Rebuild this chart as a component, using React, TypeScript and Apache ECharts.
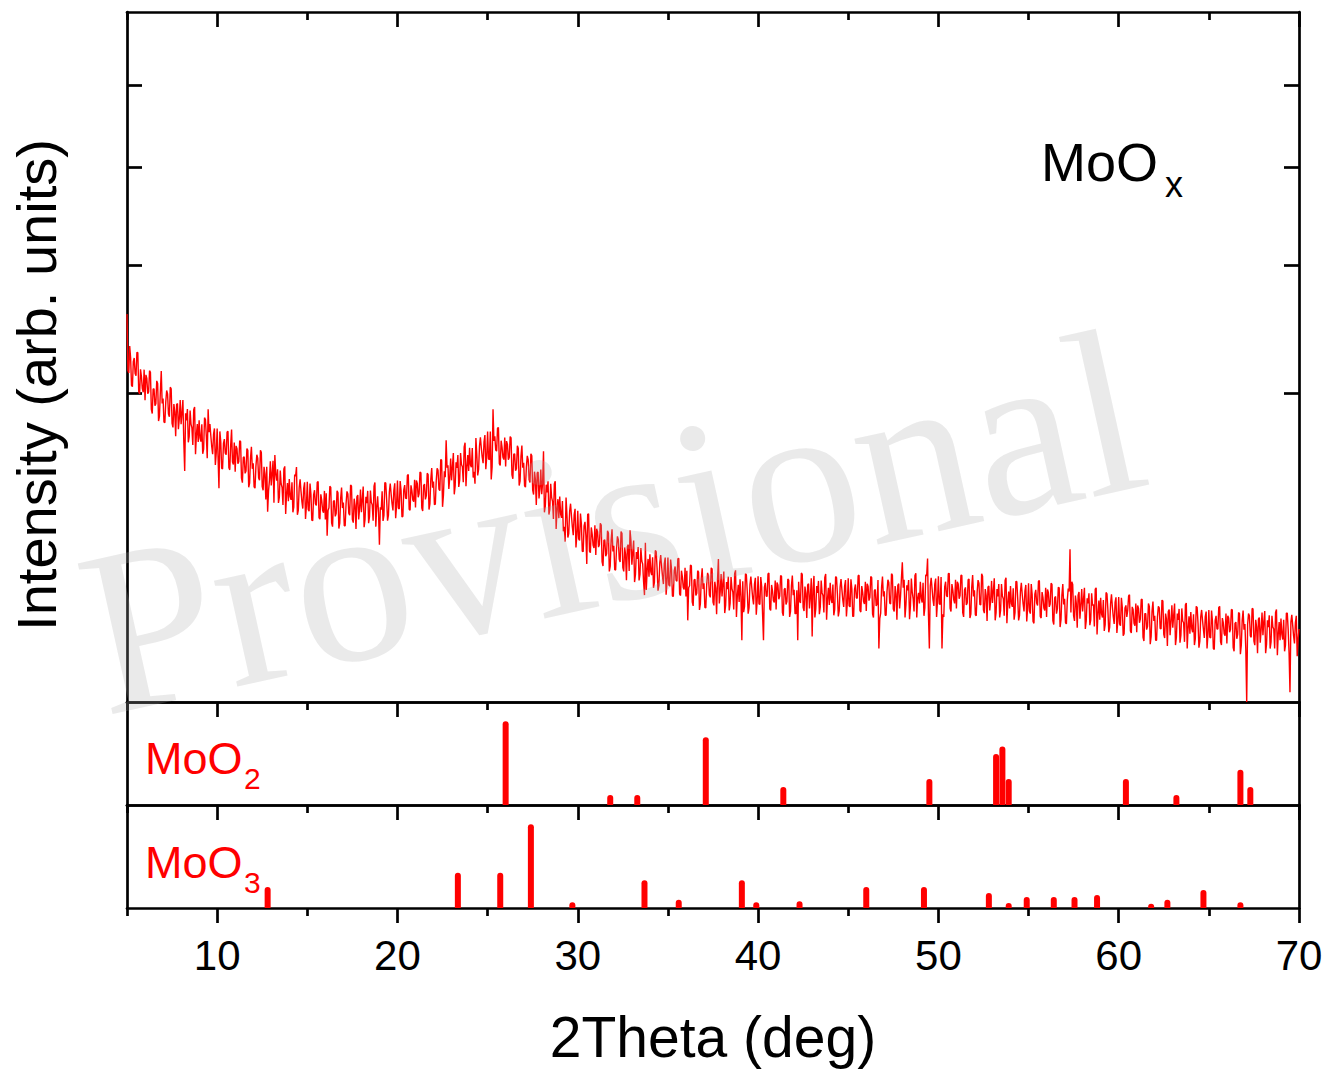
import React, { useEffect, useRef } from 'react';
import * as echarts from 'echarts';

// ---------- data ----------
const TWO_THETA_START = 5;
const TWO_THETA_STEP = 0.1;
// measured counts at 5.0, 5.1, ... 70.0 deg
const intensity: number[] = [
  1580, 1137, 1244, 1044, 1243, 1118, 1281, 996, 1112, 1007,
  956, 1099, 1010, 1141, 874, 1030, 935, 1066, 857, 1150,
  967, 819, 1019, 871, 1041, 815, 932, 742, 936, 842,
  810, 958, 560, 832, 708, 892, 789, 897, 645, 811,
  833, 712, 647, 849, 740, 900, 812, 685, 753, 590,
  785, 480, 711, 570, 726, 642, 770, 566, 780, 592,
  557, 674, 606, 713, 505, 632, 560, 665, 503, 684,
  598, 480, 642, 527, 665, 487, 581, 431, 380, 516,
  492, 611, 640, 514, 416, 563, 484, 570, 371, 503,
  522, 429, 378, 543, 580, 386, 521, 422, 479, 352,
  509, 382, 454, 345, 471, 406, 510, 351, 427, 376,
  350, 290, 396, 484, 323, 426, 373, 460, 336, 483,
  418, 326, 466, 374, 494, 350, 434, 314, 450, 394,
  378, 488, 349, 415, 336, 470, 408, 489, 323, 444,
  260, 388, 344, 506, 430, 367, 501, 413, 471, 355,
  515, 391, 469, 362, 494, 434, 544, 386, 469, 421,
  397, 502, 455, 552, 383, 499, 446, 543, 412, 575,
  510, 411, 574, 476, 617, 400, 559, 720, 588, 529,
  516, 651, 490, 575, 486, 651, 581, 684, 489, 640,
  679, 579, 529, 500, 644, 568, 736, 630, 709, 569,
  769, 617, 520, 900, 742, 661, 791, 588, 683, 617,
  583, 697, 628, 732, 523, 647, 573, 676, 512, 691,
  601, 485, 636, 520, 647, 471, 557, 408, 556, 479,
  453, 660, 404, 461, 369, 500, 423, 499, 314, 432,
  443, 356, 306, 270, 368, 298, 413, 322, 368, 251,
  384, 274, 333, 237, 341, 200, 372, 234, 296, 249,
  227, 304, 260, 329, 194, 276, 231, 300, 194, 313,
  256, 183, 288, 214, 305, 190, 251, 156, 260, 310,
  198, 274, 171, 215, 155, 249, 200, 120, 132, 215,
  229, 169, 137, 241, 187, 143, 227, 165, 201, 121,
  219, 141, 185, 117, 193, 153, 217, 119, 165, 133,
  117, 70, 142, 195, 97, 158, 124, 177, 101, 188,
  148, 93, 175, 120, 189, 105, 152, 81, 215, 128,
  117, 179, 98, 134, 88, 164, 127, 173, 76, 144,
  158, 40, 85, 173, 129, 93, 165, 114, 146, 80,
  166, 100, 140, 40, 149, 117, 175, 88, 130, 104,
  90, 144, 118, 166, 78, 136, 106, 156, 86, 168,
  132, 82, 40, 107, 175, 94, 140, 74, 147, 117,
  45, 167, 91, 125, 81, 155, 119, 163, 71, 137,
  149, 103, 79, 165, 123, 87, 159, 109, 141, 77,
  161, 95, 135, 77, 145, 113, 169, 85, 127, 101,
  87, 141, 115, 163, 75, 133, 101, 30, 83, 165,
  129, 79, 157, 103, 173, 91, 141, 71, 147, 117,
  205, 157, 99, 131, 72, 160, 112, 168, 75, 125,
  152, 104, 78, 170, 216, 30, 162, 110, 146, 76,
  166, 100, 30, 76, 152, 116, 174, 86, 132, 102,
  92, 146, 119, 169, 76, 138, 103, 159, 81, 169,
  131, 78, 156, 100, 173, 89, 134, 69, 141, 109,
  103, 161, 84, 117, 75, 146, 112, 155, 65, 128,
  141, 95, 71, 153, 112, 79, 149, 101, 129, 68,
  148, 82, 122, 65, 132, 98, 155, 74, 115, 88,
  76, 126, 101, 145, 63, 117, 91, 137, 71, 146,
  112, 64, 135, 245, 152, 78, 119, 58, 127, 99,
  86, 137, 69, 102, 62, 124, 100, 134, 48, 108,
  114, 75, 53, 126, 90, 59, 122, 76, 104, 50,
  116, 61, 94, 49, 98, 88, 121, 50, 90, 61,
  51, 92, 72, 111, 39, 82, 60, 96, 45, 106,
  78, 40, 96, 57, 109, 48, 82, 33, 90, 68,
  58, 102, 44, 71, 37, 92, 66, 99, 30, 77,
  85, 51, 34, 96, 65, 39, 89, 55, 76, 30,
  89, 43, 69, 29, 78, 56, 96, 34, 66, 46,
  36, 74, 55, 89, 27, 67, 48, 82, 34, 88,
  64, 0, 82, 46, 92, 39, 71, 25, 75, 55,
  47, 87, 35, 59, 30, 78, 56, 84, 23, 67,
  73, 41, 27, 83, 55, 1, 80, 46, 66, 22,
  56,
];
// measured counts at the half steps 5.05, 5.15, ... 69.95 deg
const intensityHalfStep: number[] = [
  1154, 1331, 1053, 1216, 1134, 1284, 1013, 1162, 1031, 1160,
  1124, 998, 1153, 899, 1029, 922, 1083, 829, 1011, 936,
  824, 946, 996, 854, 1030, 792, 885, 929, 781, 957,
  880, 712, 875, 902, 740, 811, 694, 914, 752, 710,
  732, 810, 671, 838, 624, 765, 743, 645, 786, 652,
  632, 769, 574, 702, 650, 766, 576, 693, 605, 707,
  689, 596, 717, 526, 628, 549, 675, 484, 625, 571,
  486, 583, 624, 516, 655, 471, 545, 581, 468, 608,
  549, 417, 547, 569, 441, 499, 408, 583, 456, 423,
  443, 507, 399, 535, 368, 483, 467, 393, 507, 403,
  389, 501, 347, 451, 412, 507, 357, 453, 385, 468,
  458, 385, 489, 336, 423, 362, 469, 316, 436, 395,
  326, 414, 454, 366, 490, 338, 406, 442, 350, 474,
  431, 321, 442, 468, 361, 419, 345, 506, 400, 377,
  398, 466, 366, 503, 345, 463, 453, 385, 502, 405,
  394, 513, 360, 472, 436, 539, 390, 493, 429, 519,
  515, 440, 555, 395, 492, 431, 550, 389, 522, 482,
  409, 514, 564, 469, 614, 449, 531, 576, 477, 622,
  581, 453, 604, 640, 517, 592, 507, 706, 583, 561,
  590, 678, 557, 732, 539, 688, 679, 599, 748, 631,
  620, 769, 580, 716, 667, 788, 597, 717, 629, 734,
  715, 617, 740, 542, 645, 562, 689, 492, 634, 577,
  491, 581, 617, 506, 637, 452, 520, 551, 435, 567,
  504, 378, 496, 512, 390, 440, 352, 512, 389, 355,
  370, 424, 322, 439, 284, 383, 364, 292, 392, 293,
  279, 373, 239, 326, 290, 370, 239, 320, 258, 328,
  315, 252, 335, 206, 275, 223, 308, 179, 275, 238,
  184, 249, 277, 206, 299, 179, 229, 254, 180, 273,
  235, 151, 236, 252, 171, 209, 152, 266, 184, 165,
  178, 220, 150, 237, 130, 204, 194, 146, 219, 152,
  144, 213, 118, 181, 156, 215, 122, 181, 138, 189,
  181, 137, 197, 105, 156, 119, 181, 89, 159, 134,
  94, 144, 167, 115, 186, 98, 136, 156, 102, 172,
  147, 83, 151, 165, 102, 135, 90, 182, 119, 105,
  117, 153, 96, 170, 82, 145, 138, 100, 162, 108,
  101, 164, 81, 138, 118, 172, 91, 144, 108, 155,
  150, 111, 168, 84, 133, 100, 159, 76, 142, 120,
  82, 131, 152, 103, 171, 87, 124, 144, 92, 161,
  136, 75, 141, 154, 95, 125, 84, 172, 112, 99,
  110, 145, 90, 163, 77, 139, 132, 95, 156, 103,
  97, 158, 77, 134, 114, 167, 88, 141, 106, 152,
  147, 108, 165, 81, 130, 97, 156, 73, 139, 117,
  79, 128, 150, 101, 169, 86, 123, 143, 92, 161,
  137, 75, 143, 156, 97, 127, 86, 174, 114, 102,
  113, 149, 93, 167, 79, 142, 135, 97, 160, 106,
  101, 164, 81, 139, 119, 173, 92, 146, 110, 157,
  152, 112, 168, 84, 132, 99, 157, 74, 139, 117,
  80, 127, 148, 99, 166, 83, 119, 139, 88, 154,
  130, 70, 134, 146, 88, 118, 78, 162, 104, 92,
  102, 136, 84, 152, 70, 128, 122, 86, 144, 93,
  87, 146, 68, 122, 103, 153, 77, 127, 93, 137,
  133, 95, 148, 69, 114, 82, 138, 59, 120, 100,
  66, 109, 128, 84, 145, 69, 102, 120, 73, 134,
  112, 56, 113, 124, 71, 98, 60, 137, 83, 71,
  81, 109, 63, 123, 51, 102, 95, 64, 115, 69,
  64, 114, 46, 93, 76, 118, 53, 95, 65, 102,
  98, 66, 110, 44, 82, 55, 102, 35, 87, 69,
  40, 76, 93, 56, 107, 43, 72, 86, 47, 98,
  79, 34, 82, 91, 47, 69, 38, 103, 58, 49,
  57, 81, 42, 94, 31, 76, 70, 43, 86, 48,
  44, 88, 30, 70, 56, 94, 38, 74, 49, 82,
  78, 51, 90, 31, 65, 42, 84, 24, 70, 55,
  29, 63, 78, 44, 91, 34, 59, 72, 37, 84,
  68, 25, 70, 79, 38, 59, 30, 90, 49, 40,
  48, 71, 34, 83, 25, 67, 62, 36, 78, 42,
];

// reference patterns (relative intensity)
const moo2Positions = [26.0, 31.8, 33.3, 37.1, 41.4, 49.5, 53.2, 53.55, 53.9, 60.4, 63.2, 66.75, 67.3];
const moo2Heights = [100, 12, 12, 81, 21.5, 31, 61, 70, 31, 31, 12, 42, 21.5];
const moo3Positions = [12.8, 23.35, 25.7, 27.4, 29.7, 33.7, 35.6, 39.1, 39.9, 42.3, 46.0, 49.2, 52.8, 53.9, 54.9, 56.4, 57.55, 58.8, 61.8, 62.7, 64.7, 66.75];
const moo3Heights = [25, 42, 42, 100, 7, 33, 10, 33, 7, 8, 25, 25, 18, 6, 13, 13, 13, 15.5, 5, 10, 21.5, 7];

const xMajorTicks = [10, 20, 30, 40, 50, 60, 70];
const xMinorTicks = [5, 15, 25, 35, 45, 55, 65];
const yTickCounts = [1000, 2000, 3000, 4000];
const Y_AXIS_MAX_COUNTS = 5000;
const REF_AXIS_MAX = 123;

// ---------- styling ----------
const FONT = "'Liberation Sans', Arial, Helvetica, sans-serif";
const RED = '#ff0000';
const LINE_W = 2.7;

function xAxis(
  gridIndex: number,
  position: 'top' | 'bottom',
  ticks: number[] | null,
  tickLen: number,
  inside: boolean,
  showLine: boolean,
  labels = false
) {
  return {
    type: 'value',
    gridIndex,
    position,
    min: 5,
    max: 70,
    axisLine: { show: showLine, onZero: false, lineStyle: { color: '#000', width: LINE_W } },
    axisTick: ticks
      ? { show: true, inside, length: tickLen, customValues: ticks, lineStyle: { color: '#000', width: LINE_W } }
      : { show: false },
    axisLabel: labels
      ? { show: true, customValues: ticks, color: '#000', fontSize: 42, fontFamily: FONT, margin: 26 }
      : { show: false },
    splitLine: { show: false },
  };
}

function yAxis(gridIndex: number, position: 'left' | 'right', max: number, ticks: number[] | null) {
  return {
    type: 'value',
    gridIndex,
    position,
    min: 0,
    max,
    axisLine: { show: true, onZero: false, lineStyle: { color: '#000', width: LINE_W } },
    axisTick: ticks
      ? { show: true, inside: true, length: 15, customValues: ticks, lineStyle: { color: '#000', width: LINE_W } }
      : { show: false },
    axisLabel: { show: false },
    splitLine: { show: false },
  };
}

function buildOption() {
  const sqrtTicks = yTickCounts.map((v) => Math.sqrt(v));
  const lineData: number[][] = [];
  intensity.forEach((v, i) => {
    const x = TWO_THETA_START + i * TWO_THETA_STEP;
    lineData.push([+x.toFixed(2), Math.sqrt(v)]);
    if (i < intensityHalfStep.length) {
      lineData.push([+(x + TWO_THETA_STEP / 2).toFixed(2), Math.sqrt(intensityHalfStep[i])]);
    }
  });
  return {
    animation: false,
    backgroundColor: '#fff',
    grid: [
      { left: 127, top: 12, width: 1172, height: 690 },
      { left: 127, top: 702, width: 1172, height: 103 },
      { left: 127, top: 805, width: 1172, height: 103 },
    ],
    xAxis: [
      xAxis(0, 'bottom', null, 0, true, true),
      xAxis(0, 'top', xMajorTicks, 15, true, true),
      xAxis(0, 'top', xMinorTicks, 8, true, false),
      xAxis(1, 'bottom', null, 0, true, true),
      xAxis(1, 'top', xMajorTicks, 15, true, true),
      xAxis(1, 'top', xMinorTicks, 8, true, false),
      xAxis(2, 'bottom', xMajorTicks, 15, false, true, true),
      xAxis(2, 'bottom', xMinorTicks, 8, false, false),
      xAxis(2, 'top', xMajorTicks, 15, true, true),
      xAxis(2, 'top', xMinorTicks, 8, true, false),
    ],
    yAxis: [
      yAxis(0, 'left', Math.sqrt(Y_AXIS_MAX_COUNTS), sqrtTicks),
      yAxis(0, 'right', Math.sqrt(Y_AXIS_MAX_COUNTS), sqrtTicks),
      yAxis(1, 'left', REF_AXIS_MAX, null),
      yAxis(1, 'right', REF_AXIS_MAX, null),
      yAxis(2, 'left', REF_AXIS_MAX, null),
      yAxis(2, 'right', REF_AXIS_MAX, null),
    ],
    series: [
      {
        type: 'line',
        name: 'MoOx',
        xAxisIndex: 0,
        yAxisIndex: 0,
        data: lineData,
        showSymbol: false,
        symbol: 'none',
        silent: true,
        clip: true,
        lineStyle: { color: RED, width: 1.4 },
        z: 3,
      },
      {
        type: 'bar',
        name: 'MoO2',
        xAxisIndex: 3,
        yAxisIndex: 2,
        barWidth: 6,
        data: moo2Positions.map((p, i) => [p, moo2Heights[i]]),
        itemStyle: { color: RED, borderRadius: [3, 3, 0, 0] },
        silent: true,
      },
      {
        type: 'bar',
        name: 'MoO3',
        xAxisIndex: 6,
        yAxisIndex: 4,
        barWidth: 6,
        data: moo3Positions.map((p, i) => [p, moo3Heights[i]]),
        itemStyle: { color: RED, borderRadius: [3, 3, 0, 0] },
        silent: true,
      },
    ],
    graphic: [
      // sample label
      { type: 'text', x: 1041, y: 162, style: { text: 'MoO', fill: '#000', fontSize: 54, fontFamily: FONT, align: 'left', verticalAlign: 'middle' } },
      { type: 'text', x: 1165, y: 184, style: { text: 'x', fill: '#000', fontSize: 36, fontFamily: FONT, align: 'left', verticalAlign: 'middle' } },
      // reference labels
      { type: 'text', x: 145, y: 758, style: { text: 'MoO', fill: RED, fontSize: 45, fontFamily: FONT, align: 'left', verticalAlign: 'middle' } },
      { type: 'text', x: 244, y: 778, style: { text: '2', fill: RED, fontSize: 30, fontFamily: FONT, align: 'left', verticalAlign: 'middle' } },
      { type: 'text', x: 145, y: 862, style: { text: 'MoO', fill: RED, fontSize: 45, fontFamily: FONT, align: 'left', verticalAlign: 'middle' } },
      { type: 'text', x: 244, y: 882, style: { text: '3', fill: RED, fontSize: 30, fontFamily: FONT, align: 'left', verticalAlign: 'middle' } },
      // axis titles
      { type: 'text', x: 713, y: 1037, style: { text: '2Theta (deg)', fill: '#000', fontSize: 57, fontFamily: FONT, align: 'center', verticalAlign: 'middle' } },
      { type: 'text', x: 36, y: 385, rotation: Math.PI / 2, style: { text: 'Intensity (arb. units)', fill: '#000', fontSize: 56, fontFamily: FONT, align: 'center', verticalAlign: 'middle' } },
      // watermark
      {
        type: 'text',
        x: 612,
        y: 522,
        rotation: 0.218,
        z: 100,
        silent: true,
        style: {
          text: 'Provisional',
          fill: 'rgba(170,170,170,0.25)',
          fontSize: 236,
          fontFamily: "'Liberation Serif', 'Times New Roman', 'DejaVu Serif', serif",
          align: 'center',
          verticalAlign: 'middle',
        },
      },
    ],
  };
}

export default function App() {
  const ref = useRef<HTMLDivElement>(null);
  useEffect(() => {
    document.body.style.margin = '0';
    const chart = echarts.init(ref.current as HTMLDivElement, null, { renderer: 'svg' });
    chart.setOption(buildOption() as any);
    return () => chart.dispose();
  }, []);
  return <div ref={ref} style={{ width: 1339, height: 1071, overflow: 'hidden' }} />;
}
